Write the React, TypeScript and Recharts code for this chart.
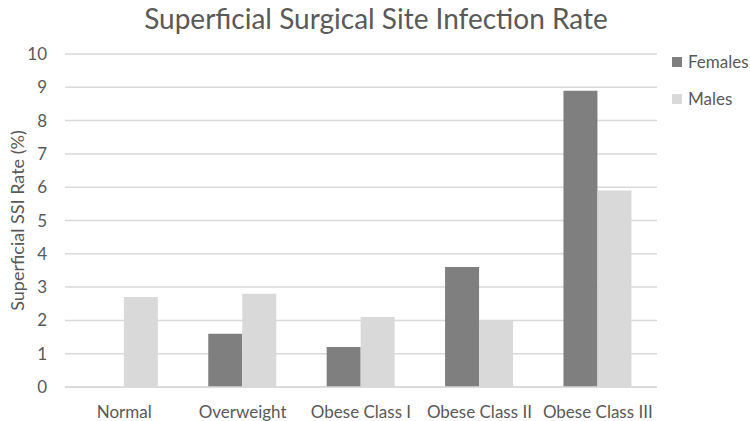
import { BarChart, Bar, XAxis, YAxis, CartesianGrid, Legend, Label } from 'recharts';

const categories = ['Normal', 'Overweight', 'Obese Class I', 'Obese Class II', 'Obese Class III'];
const females = [0, 1.6, 1.2, 3.6, 8.9];
const males = [2.7, 2.8, 2.1, 2.0, 5.9];
const yTicks = [0, 1, 2, 3, 4, 5, 6, 7, 8, 9, 10];

const FONT = 'Lato, "Open Sans", sans-serif';
const TEXT = '#595959';

const data = categories.map((name, i) => ({
  name,
  Females: females[i],
  Males: males[i],
}));

function renderYLabel(props: any) {
  const vb = props.viewBox || {};
  const x = (vb.x || 0) + 17;
  const y = (vb.y || 0) + (vb.height || 0) / 2;
  return (
    <text
      x={x}
      y={y}
      transform={`rotate(-90, ${x}, ${y})`}
      textAnchor="middle"
      dominantBaseline="central"
      fill={TEXT}
      fontSize={18}
      fontFamily={FONT}
    >
      Superficial SSI Rate (%)
    </text>
  );
}

function renderLegend(props: any) {
  const items = props.payload || [];
  return (
    <div style={{ fontFamily: FONT, color: TEXT, fontSize: 17 }}>
      {items.map((item: any) => (
        <div key={item.value} style={{ display: 'flex', alignItems: 'center', height: 37 }}>
          <span style={{ width: 10, height: 10, background: item.color, marginRight: 6, display: 'inline-block' }} />
          <span>{item.value}</span>
        </div>
      ))}
    </div>
  );
}

export default function App() {
  return (
    <div style={{ position: 'absolute', left: 0, top: 0, width: 750, height: 421, background: '#fff' }}>
      <div
        style={{
          position: 'absolute',
          top: 0,
          left: 0,
          width: 752,
          textAlign: 'center',
          fontFamily: FONT,
          fontSize: 28,
          lineHeight: '36px',
          color: TEXT,
        }}
      >
        Superficial Surgical Site Infection Rate
      </div>
      <BarChart
        width={750}
        height={421}
        data={data}
        margin={{ top: 54, right: 93, bottom: 0, left: 0 }}
        barCategoryGap="21%"
        barGap={0}
      >
        <CartesianGrid vertical={false} stroke="#d9d9d9" strokeWidth={1.5} />
        <XAxis
          dataKey="name"
          height={34}
          tickLine={false}
          tickSize={0}
          tickMargin={19}
          axisLine={{ stroke: '#d9d9d9', strokeWidth: 1.5 }}
          tick={{ fill: TEXT, fontSize: 17, fontFamily: FONT }}
          interval={0}
        />
        <YAxis
          width={65}
          domain={[0, 10]}
          ticks={yTicks}
          tickLine={false}
          tickSize={0}
          tickMargin={18}
          axisLine={false}
          tick={{ fill: TEXT, fontSize: 17, fontFamily: FONT }}
        >
          <Label content={renderYLabel} />
        </YAxis>
        <Legend
          layout="vertical"
          align="center"
          verticalAlign="middle"
          content={renderLegend}
          wrapperStyle={{ top: 43, left: 672, width: 80, height: 80 }}
        />
        <Bar dataKey="Females" fill="#7f7f7f" isAnimationActive={false} />
        <Bar dataKey="Males" fill="#d9d9d9" isAnimationActive={false} />
      </BarChart>
    </div>
  );
}
